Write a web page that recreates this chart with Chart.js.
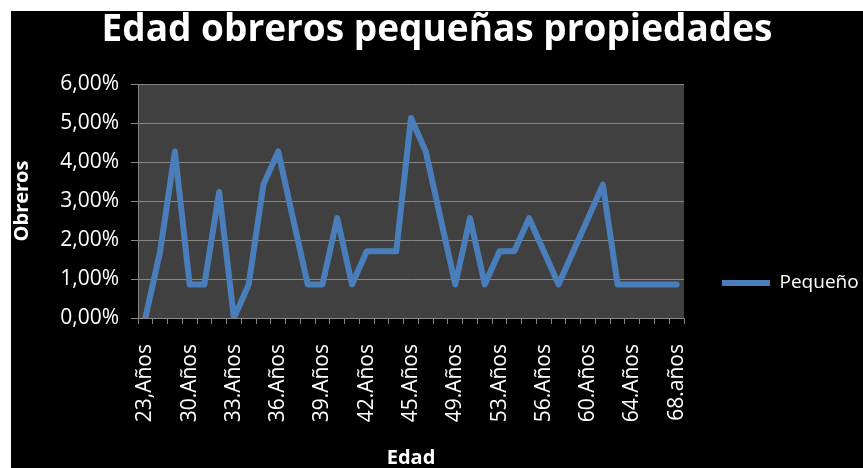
<!DOCTYPE html>
<html>
<head>
<meta charset="utf-8">
<script src="https://cdn.jsdelivr.net/npm/chart.js@4"></script>
<style>
  body { margin: 0; background: #ffffff; }
  #wrap { position: absolute; left: 11px; top: 11px; width: 852px; height: 457px; background: #000000; }
</style>
</head>
<body>
<div id="wrap"><canvas id="edadChart"></canvas></div>
<script>
// categories (only every third one is printed on the axis)
const edades = [
    '23,Años', '26.Años', '28.Años', '30.Años', '31.Años', '32.Años', '33.Años',
    '34.Años', '35.Años', '36.Años', '37.Años', '38.Años', '39.Años', '40.Años',
    '41.Años', '42.Años', '43.Años', '44.Años', '45.Años', '46.Años', '47.Años',
    '49.Años', '50.Años', '51.Años', '53.Años', '54.Años', '55.Años', '56.Años',
    '57.Años', '58.Años', '60.Años', '61.Años', '62.Años', '64.Años', '65.Años',
    '66.Años', '68.años'
];

// Pequeño, in percent
const pequeno = [
    0, 1.71, 4.27, 0.86, 0.86, 3.23, 0, 0.86, 3.42, 4.27,
    2.56, 0.86, 0.86, 2.56, 0.86, 1.71, 1.71, 1.71, 5.13, 4.27,
    2.56, 0.86, 2.56, 0.86, 1.71, 1.71, 2.56, 1.71, 0.86, 1.71,
    2.56, 3.42, 0.86, 0.86, 0.86, 0.86, 0.86
];

const yTicks = [0, 1, 2, 3, 4, 5, 6];

const FONT = "'Open Sans', sans-serif";
const GRID = '#868686';

// dark plot area
const plotBackground = {
    id: 'plotBackground',
    beforeDraw(chart) {
        const a = chart.chartArea;
        const ctx = chart.ctx;
        ctx.save();
        ctx.fillStyle = '#404040';
        ctx.fillRect(a.left, a.top, a.right - a.left, a.bottom - a.top);
        ctx.restore();
    }
};

const ctx = document.getElementById('edadChart').getContext('2d');
new Chart(ctx, {
    type: 'line',
    data: {
        labels: edades,
        datasets: [{
            label: 'Pequeño',
            data: pequeno,
            borderColor: '#4a7ebb',
            backgroundColor: '#4a7ebb',
            borderWidth: 6,
            borderJoinStyle: 'round',
            borderCapStyle: 'round',
            pointRadius: 0,
            tension: 0
        }]
    },
    options: {
        responsive: true,
        maintainAspectRatio: false,
        animation: false,
        layout: {
            padding: { top: 1, left: 0, right: 0, bottom: 0 }
        },
        plugins: {
            title: {
                display: true,
                text: 'Edad obreros pequeñas propiedades',
                color: '#ffffff',
                font: { family: FONT, size: 37, weight: 'bold', lineHeight: 1 },
                padding: { top: 0, bottom: 35 }
            },
            legend: {
                position: 'right',
                maxWidth: 179,
                // blank title only pushes the entry down to where Excel put it
                title: {
                    display: true,
                    text: ' ',
                    font: { family: FONT, size: 16, lineHeight: 1 },
                    padding: { top: 0, bottom: 70 }
                },
                labels: {
                    color: '#ffffff',
                    usePointStyle: true,
                    pointStyle: 'line',
                    pointStyleWidth: 48,
                    padding: 38,
                    font: { family: FONT, size: 19 }
                }
            },
            tooltip: { enabled: false }
        },
        scales: {
            x: {
                afterFit(scale) { scale.height = 150; },
                offset: true,
                grid: {
                    offset: true,
                    drawOnChartArea: false,
                    drawTicks: true,
                    tickLength: 6,
                    color: GRID
                },
                border: { color: GRID, width: 1 },
                ticks: {
                    autoSkip: false,
                    minRotation: 90,
                    maxRotation: 90,
                    padding: 20,
                    color: '#ffffff',
                    font: { family: FONT, size: 21 },
                    callback: function(value, index) {
                        return index % 3 === 0 ? edades[index] : '';
                    }
                },
                title: {
                    display: true,
                    text: 'Edad',
                    color: '#ffffff',
                    font: { family: FONT, size: 20, weight: 'bold', lineHeight: 1 },
                    padding: { top: 0, bottom: 0 }
                }
            },
            y: {
                afterFit(scale) { scale.width = 127; },
                min: yTicks[0],
                max: yTicks[yTicks.length - 1],
                afterBuildTicks(scale) {
                    scale.ticks = yTicks.map(v => ({ value: v }));
                },
                grid: {
                    color: GRID,
                    tickLength: 7,
                    lineWidth: 1
                },
                border: { color: GRID, width: 1 },
                ticks: {
                    padding: 12,
                    color: '#ffffff',
                    font: { family: FONT, size: 21 },
                    callback: v => v.toFixed(2).replace('.', ',') + '%'
                },
                title: {
                    display: true,
                    text: 'Obreros',
                    color: '#ffffff',
                    font: { family: FONT, size: 20, weight: 'bold', lineHeight: 1 },
                    padding: { top: 1, bottom: 0 }
                }
            }
        }
    },
    plugins: [plotBackground]
});
</script>
</body>
</html>
